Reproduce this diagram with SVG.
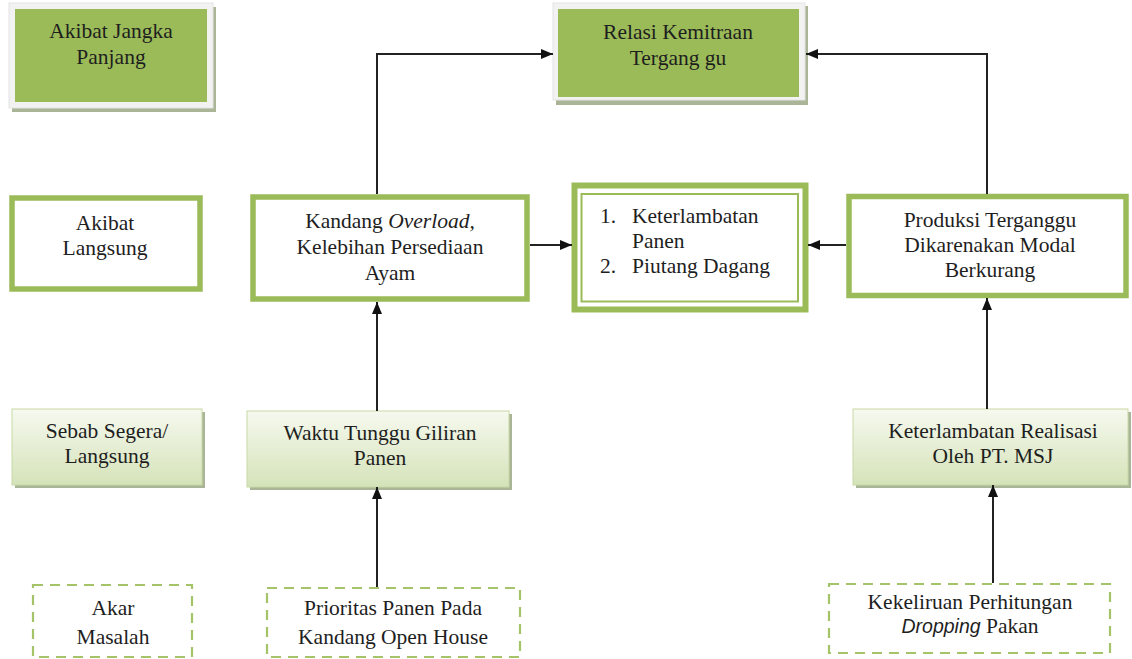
<svg xmlns="http://www.w3.org/2000/svg" width="1132" height="659" viewBox="0 0 1132 659">
<defs>
<linearGradient id="lg" x1="0" y1="0" x2="0" y2="1">
<stop offset="0" stop-color="#f6f9ef"/>
<stop offset="1" stop-color="#d5e3b9"/>
</linearGradient>
<marker id="ah" viewBox="0 0 12 10" refX="12" refY="5" markerWidth="12" markerHeight="10" markerUnits="userSpaceOnUse" orient="auto">
<path d="M0,0 L12,5 L0,10 Z" fill="#111"/>
</marker>
</defs>
<style>
text{font-family:"Liberation Serif","Times New Roman",serif;font-size:21.5px;fill:#1e1e1e;text-anchor:middle}
.it{font-style:italic}
.sans{font-family:"Liberation Sans",Arial,sans-serif;font-size:19.5px}
.shadow{fill:#aab597}
.frame{fill:#f2f2f2;stroke:#e4e4e4;stroke-width:1}
.green{fill:#9bbb59}
.thick{fill:#fff;stroke:#9bbb59;stroke-width:5.5}
.grad{fill:url(#lg);stroke:#c8d9a6;stroke-width:1}
.dash{fill:#fff;stroke:#a5c46a;stroke-width:2.2;stroke-dasharray:10 7}
.conn{fill:none;stroke:#222;stroke-width:2}
</style>
<rect width="1132" height="659" fill="#fff"/>

<g id="akibat-jangka-panjang">
<rect class="shadow" x="12" y="7" width="204" height="105"/>
<rect class="frame" x="9" y="3" width="204" height="105"/>
<rect class="green" x="15" y="9" width="192" height="93"/>
<text x="111" y="38">Akibat Jangka</text>
<text x="111" y="64">Panjang</text>
</g>

<g id="relasi-kemitraan">
<rect class="shadow" x="556" y="6" width="252" height="99"/>
<rect class="frame" x="553" y="3" width="252" height="97"/>
<rect class="green" x="558" y="9" width="241" height="88"/>
<text x="678" y="39">Relasi Kemitraan</text>
<text x="678" y="65">Tergang gu</text>
</g>

<g id="akibat-langsung">
<rect class="thick" x="12" y="198" width="188" height="91"/>
<text x="105" y="230">Akibat</text>
<text x="105" y="255">Langsung</text>
</g>

<g id="kandang-overload">
<rect class="thick" x="253" y="197" width="274" height="102"/>
<text x="390" y="228">Kandang <tspan class="it">Overload,</tspan></text>
<text x="390" y="254">Kelebihan Persediaan</text>
<text x="390" y="280">Ayam</text>
</g>

<g id="keterlambatan-panen">
<rect x="574.5" y="185.5" width="231" height="124" fill="#fff" stroke="#9bbb59" stroke-width="6"/>
<rect x="581.5" y="194" width="216.5" height="107.5" fill="none" stroke="#9bbb59" stroke-width="2"/>
<text x="600" y="223" style="text-anchor:start">1.</text>
<text x="632" y="223" style="text-anchor:start">Keterlambatan</text>
<text x="632" y="248" style="text-anchor:start">Panen</text>
<text x="600" y="273" style="text-anchor:start">2.</text>
<text x="632" y="273" style="text-anchor:start">Piutang Dagang</text>
</g>

<g id="produksi-terganggu">
<rect class="thick" x="849" y="196.5" width="277" height="99"/>
<text x="990" y="227">Produksi Terganggu</text>
<text x="990" y="252">Dikarenakan Modal</text>
<text x="990" y="277">Berkurang</text>
</g>

<g id="sebab-segera">
<rect class="shadow" x="15" y="412" width="190" height="76"/>
<rect class="grad" x="12" y="409" width="190" height="76"/>
<text x="107" y="438">Sebab Segera/</text>
<text x="107" y="463">Langsung</text>
</g>

<g id="waktu-tunggu">
<rect class="shadow" x="250" y="414" width="262" height="76"/>
<rect class="grad" x="247" y="411" width="262" height="76"/>
<text x="380" y="440">Waktu Tunggu Giliran</text>
<text x="380" y="465">Panen</text>
</g>

<g id="keterlambatan-realisasi">
<rect class="shadow" x="856" y="412" width="275" height="76"/>
<rect class="grad" x="853" y="409" width="275" height="76"/>
<text x="993" y="438">Keterlambatan Realisasi</text>
<text x="993" y="463">Oleh PT. MSJ</text>
</g>

<g id="akar-masalah">
<rect class="dash" x="33" y="585" width="159" height="72"/>
<text x="113" y="615">Akar</text>
<text x="113" y="644">Masalah</text>
</g>

<g id="prioritas-panen">
<rect class="dash" x="267" y="588" width="253" height="69"/>
<text x="393" y="615">Prioritas Panen Pada</text>
<text x="393" y="644">Kandang Open House</text>
</g>

<g id="kekeliruan-perhitungan">
<rect class="dash" x="829" y="584" width="281" height="69"/>
<text x="970" y="609">Kekeliruan Perhitungan</text>
<text x="970" y="633"><tspan class="it sans">Dropping</tspan> Pakan</text>
</g>

<g id="connectors">
<path class="conn" d="M377,194 V54 H553" marker-end="url(#ah)"/>
<path class="conn" d="M987,194 V54 H806" marker-end="url(#ah)"/>
<path class="conn" d="M530,245 H572" marker-end="url(#ah)"/>
<path class="conn" d="M846,245 H808" marker-end="url(#ah)"/>
<path class="conn" d="M377,411 V302" marker-end="url(#ah)"/>
<path class="conn" d="M377,587 V487" marker-end="url(#ah)"/>
<path class="conn" d="M987,409 V298" marker-end="url(#ah)"/>
<path class="conn" d="M993,583 V485" marker-end="url(#ah)"/>
</g>
</svg>
